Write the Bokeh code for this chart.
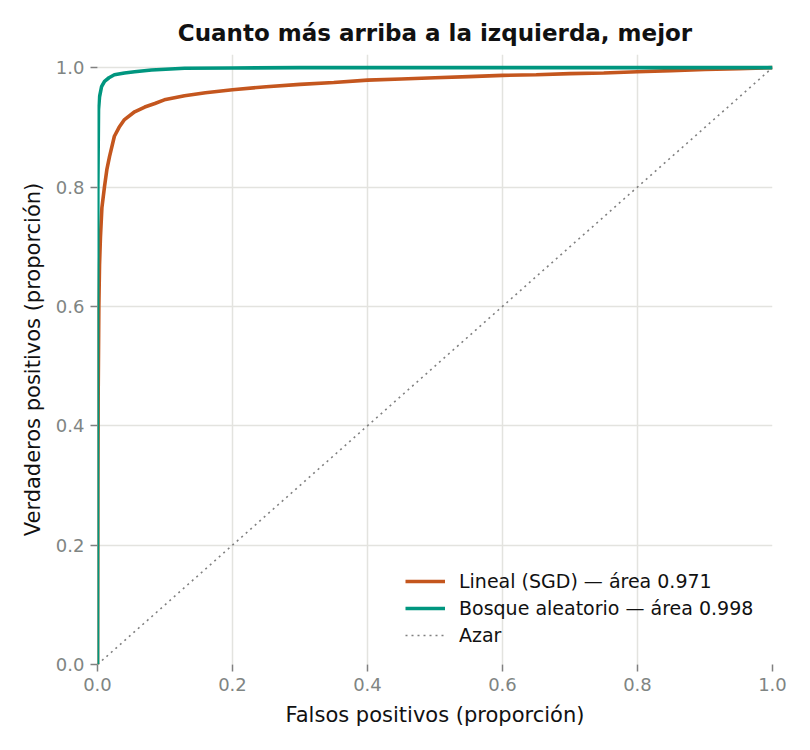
from bokeh.plotting import figure
from bokeh.models import Range1d, Legend, LegendItem, FixedTicker, NumeralTickFormatter
from bokeh.embed import file_html
from bokeh.resources import INLINE

# ROC curve for the linear model (SGD)
fpr_lineal = [0.0, 0.0005, 0.001, 0.002, 0.003, 0.0044, 0.0065, 0.0104, 0.014, 0.0178, 0.025,
              0.032, 0.04, 0.055, 0.07, 0.085, 0.099, 0.129, 0.16, 0.2, 0.25, 0.3, 0.35,
              0.4, 0.45, 0.5, 0.55, 0.6, 0.65, 0.7, 0.75, 0.8, 0.85, 0.9, 0.95, 1.0]
tpr_lineal = [0.0, 0.30, 0.45, 0.60, 0.67, 0.717, 0.765, 0.801, 0.830, 0.851, 0.885,
              0.900, 0.913, 0.926, 0.934, 0.940, 0.946, 0.953, 0.958, 0.963, 0.968, 0.972, 0.975,
              0.979, 0.981, 0.983, 0.985, 0.987, 0.988, 0.990, 0.991, 0.993, 0.995, 0.997, 0.998, 1.0]

# ROC curve for the random forest
fpr_bosque = [0.0, 0.0, 0.0005, 0.0015, 0.003, 0.006, 0.0104, 0.017, 0.025, 0.04, 0.055,
              0.08, 0.129, 0.2, 0.3, 0.5, 1.0]
tpr_bosque = [0.0, 0.50, 0.80, 0.93, 0.951, 0.968, 0.977, 0.983, 0.988, 0.991, 0.993,
              0.996, 0.999, 0.9995, 1.0, 1.0, 1.0]

# Chance diagonal
azar = [0.0, 1.0]

ticks = [0.0, 0.2, 0.4, 0.6, 0.8, 1.0]

titulo = "Cuanto más arriba a la izquierda, mejor"
etiqueta_x = "Falsos positivos (proporción)"
etiqueta_y = "Verdaderos positivos (proporción)"
leyenda = ["Lineal (SGD) — área 0.971", "Bosque aleatorio — área 0.998", "Azar"]

FONT = "DejaVu Sans"

p = figure(width=794, height=734, output_backend="svg", toolbar_location=None,
           x_range=Range1d(0, 1.0), y_range=Range1d(0, 1.022),
           min_border_left=97, min_border_right=22, min_border_top=54, min_border_bottom=70)

p.title.text = titulo
p.title.align = "center"
p.title.text_font = FONT
p.title.text_font_size = "23px"
p.title.text_font_style = "bold"
p.title.text_color = "#111111"
p.title.standoff = 17

p.outline_line_color = None
p.background_fill_color = "white"

for ax in (p.xaxis, p.yaxis):
    ax.ticker = FixedTicker(ticks=ticks)
    ax.formatter = NumeralTickFormatter(format="0.0")
    ax.axis_line_color = None
    ax.major_tick_line_color = "#808080"
    ax.major_tick_line_width = 1.5
    ax.major_tick_out = 7
    ax.major_tick_in = 0
    ax.minor_tick_line_color = None
    ax.major_label_text_font = FONT
    ax.major_label_text_font_size = "18px"
    ax.major_label_text_color = "#7f8583"
    ax.axis_label_text_font = FONT
    ax.axis_label_text_font_size = "21px"
    ax.axis_label_text_font_style = "normal"
    ax.axis_label_text_color = "#111111"

p.xaxis.axis_label = etiqueta_x
p.yaxis.axis_label = etiqueta_y
p.xaxis.major_label_standoff = 6
p.yaxis.major_label_standoff = 6
p.xaxis.axis_label_standoff = 9
p.yaxis.axis_label_standoff = 8

p.xgrid.ticker = FixedTicker(ticks=ticks)
p.ygrid.ticker = FixedTicker(ticks=ticks)
p.grid.grid_line_color = "#e3e3df"
p.grid.grid_line_width = 1.5

r_azar = p.line(azar, azar, line_color="#808080", line_width=1.6, line_dash="2 4")
r_lin = p.line(fpr_lineal, tpr_lineal, line_color="#c4561e", line_width=3.6)
r_bos = p.line(fpr_bosque, tpr_bosque, line_color="#00967f", line_width=3.6)

legend = Legend(items=[LegendItem(label=leyenda[0], renderers=[r_lin]),
                       LegendItem(label=leyenda[1], renderers=[r_bos]),
                       LegendItem(label=leyenda[2], renderers=[r_azar])],
                location=(308, 18))
legend.border_line_color = None
legend.background_fill_alpha = 0.0
legend.label_text_font = FONT
legend.label_text_font_size = "19px"
legend.label_text_color = "#111111"
legend.glyph_width = 40
legend.glyph_height = 20
legend.label_height = 20
legend.spacing = 5
legend.padding = 8
legend.label_standoff = 14
p.add_layout(legend)

open("out.html", "w").write(file_html(p, INLINE))
